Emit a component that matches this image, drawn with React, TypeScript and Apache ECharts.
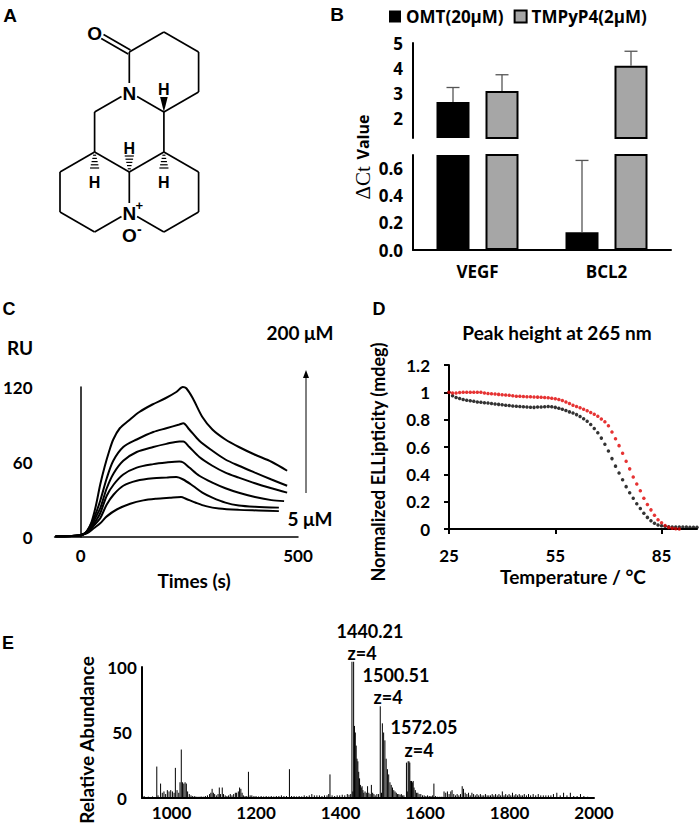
import React, { useEffect, useRef } from 'react';
import * as echarts from 'echarts';

// ---------- Panel B data ----------
const categories = ['VEGF', 'BCL2'];
const omtMean = [2.64, 0.13];
const omtErr = [0.58, 0.53];
const tmpMean = [3.08, 4.09];
const tmpErr = [0.65, 0.58];
const upperTicks = [1.2, 2, 3, 4, 5];
const upperLabels = [2, 3, 4, 5];
const lowerTicks = [0, 0.2, 0.4, 0.6, 0.7];
const lowerLabels = [0, 0.2, 0.4, 0.6];

// ---------- Panel C data (time s, RU) ----------
const sprBaseline = [[-58, 0.5], [-40, 0.6], [-20, 0.8], [-5, 1.2], [5, 2]];
const spr200 = [[15, 5], [25, 12], [35, 25], [45, 42], [55, 56], [65, 68], [75, 78], [90, 87], [110, 93], [135, 100], [165, 106], [195, 111], [220, 116], [235, 120], [243, 119], [258, 111], [280, 96], [303, 86], [333, 78], [364, 72], [400, 66], [440, 60], [475, 53]];
const sprC2 = [[15, 5], [25, 11], [35, 19], [45, 29], [60, 47], [75, 61], [98, 72], [129, 78], [167, 84], [197, 87], [227, 90], [236, 91], [250, 86], [273, 77], [303, 69], [333, 62], [364, 57], [401, 51.5], [439, 46], [475, 41]];
const sprC3 = [[15, 4.5], [25, 9], [35, 16], [45, 23], [60, 39], [76, 51], [98, 61], [129, 68], [167, 72], [197, 74.5], [227, 76.5], [236, 76.5], [250, 72], [273, 64], [303, 57], [333, 51.5], [364, 47.5], [401, 43], [439, 39], [475, 35.5]];
const sprC4 = [[15, 4], [25, 8], [35, 13], [45, 19], [60, 33], [76, 42], [98, 50], [129, 55.5], [167, 58.3], [197, 59.6], [227, 60.4], [236, 59.6], [250, 55.6], [273, 49], [303, 43.5], [333, 39], [364, 35.4], [401, 32], [439, 29.5], [468, 28.7]];
const sprC5 = [[15, 3.5], [25, 7], [35, 11], [45, 15], [60, 26], [76, 34], [98, 41], [129, 45], [167, 47], [197, 47.5], [220, 48], [236, 46], [258, 41], [280, 35.5], [303, 31.5], [333, 27.5], [364, 25.2], [401, 24.2], [456, 23.5]];
const spr5 = [[15, 3], [30, 7], [45, 11], [60, 16.5], [83, 22], [114, 26.6], [144, 29.3], [174, 30.6], [205, 31.4], [231, 32], [242, 30.6], [265, 27.4], [288, 24.7], [318, 22.8], [364, 21.7], [409, 21.2], [456, 20.7]];
const sprCurves = [spr200, sprC2, sprC3, sprC4, sprC5, spr5];

// ---------- Panel D data (°C, normalized ellipticity) ----------
const meltTemps = [25, 26, 27, 28, 29, 30, 31, 32, 33, 34, 35, 36, 37, 38, 39, 40, 41, 42, 43, 44, 45, 46, 47, 48, 49, 50, 51, 52, 53, 54, 55, 56, 57, 58, 59, 60, 61, 62, 63, 64, 65, 66, 67, 68, 69, 70, 71, 72, 73, 74, 75, 76, 77, 78, 79, 80, 81, 82, 83, 84, 85, 86, 87, 88, 89, 90, 91, 92, 93, 94, 95];
const meltRed = [1.0, 0.995, 0.995, 0.998, 1.0, 1.0, 1.0, 1.0, 1.0, 1.0, 0.995, 0.992, 0.99, 0.988, 0.985, 0.982, 0.98, 0.978, 0.975, 0.972, 0.972, 0.97, 0.968, 0.968, 0.966, 0.965, 0.964, 0.962, 0.96, 0.957, 0.953, 0.947, 0.94, 0.93, 0.918, 0.906, 0.897, 0.887, 0.877, 0.866, 0.853, 0.84, 0.825, 0.805, 0.785, 0.755, 0.71, 0.66, 0.61, 0.555, 0.495, 0.44, 0.38, 0.33, 0.28, 0.225, 0.18, 0.14, 0.1, 0.068, 0.045, 0.025, 0.012, 0.005, 0.002, 0.0];
const meltBlack = [1.0, 0.975, 0.962, 0.955, 0.948, 0.942, 0.938, 0.934, 0.93, 0.927, 0.924, 0.922, 0.919, 0.915, 0.912, 0.909, 0.906, 0.903, 0.9, 0.898, 0.896, 0.894, 0.892, 0.891, 0.89, 0.892, 0.893, 0.895, 0.897, 0.895, 0.89, 0.884, 0.876, 0.867, 0.857, 0.848, 0.837, 0.823, 0.807, 0.788, 0.765, 0.735, 0.705, 0.665, 0.62, 0.57, 0.515, 0.46, 0.41, 0.36, 0.31, 0.265, 0.225, 0.185, 0.15, 0.115, 0.085, 0.06, 0.042, 0.03, 0.024, 0.02, 0.017, 0.015, 0.015, 0.015, 0.014, 0.014, 0.013, 0.013, 0.012];

// ---------- Panel E data (m/z, relative abundance) ----------
const msPeaks = [
  [935, 1.5], [945, 1], [955, 1.2], [965, 24], [968, 2], [974, 11], [978, 4], [982, 5], [986, 3], [990, 6], [994, 5], [998, 6], [1002, 5], [1006, 4], [1009, 23], [1013, 6], [1017, 4], [1020, 12], [1023, 37], [1026, 12], [1029, 11], [1032, 12], [1035, 11], [1038, 5], [1042, 3], [1046, 2], [1050, 1.5], [1055, 1.5], [1060, 1],
  [1065, 1], [1070, 1.2], [1075, 1], [1080, 1.5], [1085, 2], [1090, 3], [1093, 4], [1096, 7], [1099, 4], [1102, 3], [1106, 2], [1110, 3], [1113, 8], [1116, 3], [1120, 8], [1123, 3], [1127, 2], [1131, 1.5], [1135, 2], [1139, 3], [1143, 2], [1147, 3], [1151, 4], [1154, 4], [1158, 5], [1161, 8], [1164, 7], [1167, 4], [1170, 2], [1174, 1.5], [1178, 1.5], [1182, 20], [1186, 2], [1190, 2],
  [1195, 1.5], [1200, 1.5], [1206, 1.2], [1212, 1.5], [1218, 1.2], [1224, 1.5], [1230, 1.2], [1236, 1.5], [1242, 1.2], [1248, 1.5], [1254, 1.5], [1260, 2], [1266, 1.5], [1272, 1.5], [1279, 22], [1284, 1.5], [1290, 1.5], [1296, 1.2], [1302, 1.5], [1308, 1.2], [1314, 2], [1320, 1.5], [1326, 2], [1332, 3], [1338, 2], [1344, 2], [1350, 2], [1356, 1.5], [1362, 2], [1368, 2], [1372, 3], [1375, 18], [1380, 2], [1386, 1.5], [1392, 2], [1398, 2], [1404, 2.5], [1410, 2], [1416, 3], [1420, 2.5],
  [1424, 3], [1427, 104], [1429, 5], [1431, 104], [1433, 55], [1435, 50], [1437, 40], [1439, 30], [1441, 28], [1443, 20], [1445, 15], [1447, 10], [1449, 8], [1451, 9], [1453, 6], [1455, 4], [1458, 5], [1461, 4], [1464, 9], [1467, 4], [1470, 3], [1473, 10], [1476, 4], [1479, 3], [1482, 2], [1486, 3],
  [1490, 3], [1494, 70], [1497, 4], [1499, 57], [1502, 50], [1505, 44], [1508, 30], [1511, 22], [1514, 18], [1517, 12], [1520, 10], [1523, 8], [1526, 6], [1529, 5], [1532, 4], [1535, 3], [1538, 3], [1541, 2.5], [1544, 3], [1547, 2], [1550, 2],
  [1556, 27], [1558, 5], [1560, 28], [1562, 28], [1564, 27], [1566, 13], [1568, 13], [1570, 12], [1572, 13], [1574, 8], [1577, 6], [1580, 4], [1583, 4], [1586, 3], [1590, 3], [1594, 2], [1598, 2], [1602, 1.5], [1606, 2], [1610, 1.5], [1614, 1.5], [1618, 2], [1621, 11], [1625, 1.5], [1630, 1], [1635, 1], [1640, 1],
  [1645, 5], [1649, 4], [1653, 5], [1657, 3], [1661, 5], [1664, 6], [1668, 3], [1672, 2], [1676, 3], [1680, 2], [1684, 3], [1688, 9], [1691, 7], [1695, 4], [1699, 3], [1703, 4], [1707, 2], [1711, 4], [1715, 3], [1719, 2], [1723, 3], [1727, 2], [1731, 3], [1735, 2], [1739, 2], [1743, 3], [1747, 2], [1751, 2], [1755, 2], [1759, 3], [1763, 2], [1767, 3], [1771, 2], [1775, 3], [1779, 2], [1783, 5], [1787, 2], [1791, 3], [1795, 2], [1799, 3], [1803, 2], [1807, 4], [1811, 2], [1815, 3], [1819, 2], [1823, 3], [1827, 2], [1831, 2], [1835, 3], [1840, 2], [1845, 3], [1850, 2], [1856, 3], [1862, 2], [1868, 3], [1874, 2], [1880, 2], [1886, 2], [1892, 2], [1898, 2], [1904, 3], [1912, 4], [1920, 2], [1928, 4], [1936, 2], [1944, 4], [1952, 1.5], [1960, 1.5], [1968, 3], [1976, 1.5], [1985, 1],
];
const msXLabels = [1000, 1200, 1400, 1600, 1800, 2000];
const msYLabels = [0, 50, 100];
const peakNotes = [
  { mz: '1440.21', z: 'z=4' },
  { mz: '1500.51', z: 'z=4' },
  { mz: '1572.05', z: 'z=4' },
];

// ---------- Fonts ----------
const FB = '"Open Sans", sans-serif';
const FC = 'Lato, "Open Sans", sans-serif';
const FS = '"Liberation Sans", Arial, sans-serif';

// ---------- Structure (panel A) ----------
const SX = [60, 94.6, 129.3, 163.9, 198.6];
const atoms: Record<string, [number, number]> = {
  C1: [SX[2], 52], C2: [SX[3], 32], C3: [SX[4], 52], C4: [SX[4], 92], C5: [SX[3], 112], N1: [SX[2], 92],
  O1: [SX[1], 32], C6: [SX[1], 112], C7: [SX[1], 152], C8: [SX[2], 172], C9: [SX[3], 152],
  C10: [SX[0], 172], C11: [SX[0], 212], C12: [SX[1], 232], N2: [SX[2], 212],
  C13: [SX[4], 172], C14: [SX[4], 212], C15: [SX[3], 232],
};
const labelled: Record<string, number> = { N1: 9, N2: 9, O1: 9 };
const bonds = [
  ['C1', 'C2'], ['C2', 'C3'], ['C3', 'C4'], ['C4', 'C5'], ['C5', 'N1'], ['N1', 'C1'],
  ['N1', 'C6'], ['C6', 'C7'], ['C7', 'C8'], ['C8', 'C9'], ['C9', 'C5'],
  ['C7', 'C10'], ['C10', 'C11'], ['C11', 'C12'], ['C12', 'N2'], ['N2', 'C8'],
  ['C9', 'C13'], ['C13', 'C14'], ['C14', 'C15'], ['C15', 'N2'],
];

function seg(a: [number, number], b: [number, number], sa: number, sb: number, off = 0) {
  const dx = b[0] - a[0], dy = b[1] - a[1];
  const len = Math.hypot(dx, dy);
  const ux = dx / len, uy = dy / len;
  const px = -uy * off, py = ux * off;
  return {
    type: 'line', silent: true,
    shape: { x1: a[0] + ux * sa + px, y1: a[1] + uy * sa + py, x2: b[0] - ux * sb + px, y2: b[1] - uy * sb + py },
    style: { stroke: '#000', lineWidth: 1.7 },
  };
}

function structureGraphics() {
  const els: any[] = [];
  bonds.forEach(([p, q]) => {
    els.push(seg(atoms[p], atoms[q], labelled[p] || 0, labelled[q] || 0));
  });
  els.push(seg(atoms.C1, atoms.O1, 0, 9, 2.3));
  els.push(seg(atoms.C1, atoms.O1, 0, 9, -2.3));
  const c5 = atoms.C5;
  els.push({ type: 'polygon', silent: true, shape: { points: [[c5[0], c5[1]], [c5[0] - 3.8, c5[1] - 15], [c5[0] + 3.8, c5[1] - 15]] }, style: { fill: '#000' } });
  const hash = (c: [number, number], dir: number) => {
    for (let i = 1; i <= 5; i++) {
      const y = c[1] + dir * (i * 3.2);
      const w = 0.8 + i * 0.75;
      els.push({ type: 'line', silent: true, shape: { x1: c[0] - w, y1: y, x2: c[0] + w, y2: y }, style: { stroke: '#000', lineWidth: 1.2 } });
    }
  };
  hash(atoms.C8, -1);
  hash(atoms.C7, 1);
  hash(atoms.C9, 1);
  const txt = (t: string, x: number, y: number, size: number) => ({
    type: 'text', silent: true, x, y,
    style: { text: t, fill: '#000', font: `bold ${size}px ${FS}`, align: 'center', verticalAlign: 'middle' },
  });
  els.push(txt('O', atoms.O1[0], atoms.O1[1] + 1, 19));
  els.push(txt('N', atoms.N1[0], atoms.N1[1] + 1, 19));
  els.push(txt('N', atoms.N2[0], atoms.N2[1] + 1, 19));
  els.push(txt('+', atoms.N2[0] + 10, atoms.N2[1] - 7, 13));
  els.push(txt('O', atoms.N2[0], atoms.N2[1] + 23, 19));
  els.push(txt('-', atoms.N2[0] + 10, atoms.N2[1] + 17, 14));
  els.push(txt('H', atoms.C5[0], atoms.C5[1] - 23, 16));
  els.push(txt('H', atoms.C8[0], atoms.C8[1] - 24, 16));
  els.push(txt('H', atoms.C7[0], atoms.C7[1] + 30, 16));
  els.push(txt('H', atoms.C9[0], atoms.C9[1] + 30, 16));
  return els;
}

function text(t: string, x: number, y: number, font: string, extra: any = {}) {
  return { type: 'text', silent: true, x, y, ...extra, style: { text: t, fill: '#000', font, align: 'center', verticalAlign: 'middle', ...(extra.style || {}) } };
}

function buildOption() {
  const errData = [
    ...omtMean.map((m, i) => [i, m, omtErr[i], 0]),
    ...tmpMean.map((m, i) => [i, m, tmpErr[i], 1]),
  ];
  const barW = 33, gapPx = 16;
  const half = (barW + gapPx) / 2;
  const errRender = (params: any, api: any) => {
    const idx = api.value(0), m = api.value(1), e = api.value(2), g = api.value(3);
    const base = api.coord([idx, m]);
    const top = api.coord([idx, m + e]);
    const x = base[0] + (g === 0 ? -half : half);
    return {
      type: 'group', children: [
        { type: 'line', shape: { x1: x, y1: base[1], x2: x, y2: top[1] }, style: { stroke: '#555', lineWidth: 1.3 } },
        { type: 'line', shape: { x1: x - 6.5, y1: top[1], x2: x + 6.5, y2: top[1] }, style: { stroke: '#555', lineWidth: 1.3 } },
      ],
    };
  };
  const stickRender = (params: any, api: any) => {
    const p0 = api.coord([api.value(0), 0]);
    const p1 = api.coord([api.value(0), api.value(1)]);
    return { type: 'line', shape: { x1: p0[0], y1: p0[1], x2: p1[0], y2: p1[1] }, style: { stroke: '#000', lineWidth: 1 } };
  };

  const axisLine = (w = 2) => ({ show: true, lineStyle: { color: '#000', width: w } });
  const bLabel = { color: '#000', fontFamily: FB, fontWeight: 'bold', fontSize: 17 };
  const cLabel = { color: '#000', fontFamily: FC, fontWeight: 'bold', fontSize: 17 };
  const T = `bold 19px ${FC}`;

  const graphic: any[] = [
    text('A', 10, 15, `bold 19px ${FS}`),
    text('B', 337, 14, `bold 19px ${FS}`),
    text('C', 9, 309, `bold 18px ${FS}`),
    text('D', 379, 309, `bold 18px ${FS}`),
    text('E', 8, 643, `bold 18px ${FS}`),
    ...structureGraphics(),
    {
      type: 'text', silent: true, x: 363, y: 157, rotation: Math.PI / 2,
      style: {
        text: '{d|ΔCt}  {v|Value}', fill: '#000', align: 'center', verticalAlign: 'middle',
        rich: {
          d: { fontFamily: '"Liberation Serif", "DejaVu Serif", serif', fontSize: 21, fill: '#000' },
          v: { fontFamily: FB, fontWeight: 'bold', fontSize: 16, fill: '#000' },
        },
      },
    },
    text('RU', 20, 347, T),
    text('200 μM', 300, 332, T),
    text('5 μM', 310, 518, T),
    { type: 'line', silent: true, shape: { x1: 306, y1: 493, x2: 306, y2: 376 }, style: { stroke: '#000', lineWidth: 1 } },
    { type: 'polygon', silent: true, shape: { points: [[306, 370], [303, 378], [309, 378]] }, style: { fill: '#000' } },
    text('Times (s)', 194, 580, T),
    text('Peak height at 265 nm', 557, 332, T),
    text('Temperature / °C', 573, 576, T),
    text('Normalized ELLipticity (mdeg)', 378, 462, `bold 18px ${FC}`, { rotation: Math.PI / 2 }),
    text('Relative Abundance', 86, 740, T, { rotation: Math.PI / 2 }),
    text(peakNotes[0].mz, 370, 631, `bold 18px ${FC}`),
    text(peakNotes[0].z, 362, 653, `bold 18px ${FC}`),
    text(peakNotes[1].mz, 396, 675, `bold 18px ${FC}`),
    text(peakNotes[1].z, 388, 697, `bold 18px ${FC}`),
    text(peakNotes[2].mz, 424, 727, `bold 18px ${FC}`),
    text(peakNotes[2].z, 419, 750, `bold 18px ${FC}`),
  ];

  return {
    animation: false,
    backgroundColor: '#fff',
    legend: {
      left: 384, top: 3, itemWidth: 12, itemHeight: 12, itemGap: 10, icon: 'rect',
      data: ['OMT(20μM)', 'TMPyP4(2μM)'],
      textStyle: { color: '#000', fontFamily: FB, fontWeight: 'bold', fontSize: 17 },
      selectedMode: false,
    },
    grid: [
      { left: 413, top: 43, width: 258, height: 95 },
      { left: 413, top: 155, width: 258, height: 95 },
      { left: 54, top: 387, width: 244, height: 150 },
      { left: 449, top: 365, width: 248, height: 164 },
      { left: 142, top: 667, width: 452, height: 131 },
    ],
    xAxis: [
      { type: 'category', gridIndex: 0, data: categories, show: false },
      {
        type: 'category', gridIndex: 1, data: categories, axisLine: axisLine(2),
        axisTick: { alignWithLabel: true, length: 6, lineStyle: { color: '#000', width: 1.5 } },
        axisLabel: { ...bLabel, margin: 13 },
      },
      {
        type: 'value', gridIndex: 2, min: -60, max: 500, axisLine: axisLine(1.5), axisTick: { show: false }, splitLine: { show: false },
        axisLabel: { ...cLabel, customValues: [0, 500], margin: 10 },
      },
      {
        type: 'value', gridIndex: 3, min: 25, max: 95, axisLine: axisLine(2), splitLine: { show: false },
        axisTick: { customValues: [25, 55, 85], length: 5, lineStyle: { color: '#000', width: 2 } },
        axisLabel: { ...cLabel, customValues: [25, 55, 85], margin: 18 },
      },
      {
        type: 'value', gridIndex: 4, min: 930, max: 2000, axisLine: axisLine(2), axisTick: { show: false }, splitLine: { show: false },
        axisLabel: { ...cLabel, customValues: msXLabels, margin: 6, formatter: (v: number) => String(v) },
      },
    ],
    yAxis: [
      {
        type: 'value', gridIndex: 0, min: 1.2, max: 5, axisLine: axisLine(2), splitLine: { show: false },
        axisTick: { customValues: upperTicks, length: 6, lineStyle: { color: '#000', width: 2 } },
        axisLabel: { ...bLabel, customValues: upperLabels, margin: 10 },
      },
      {
        type: 'value', gridIndex: 1, min: 0, max: 0.7, axisLine: axisLine(2), splitLine: { show: false },
        axisTick: { customValues: lowerTicks, length: 6, lineStyle: { color: '#000', width: 2 } },
        axisLabel: { ...bLabel, customValues: lowerLabels, margin: 10, formatter: (v: number) => v.toFixed(1) },
      },
      {
        type: 'value', gridIndex: 2, min: 0, max: 120, axisLine: axisLine(1.5), axisTick: { show: false }, splitLine: { show: false },
        axisLabel: { ...cLabel, customValues: [0, 60, 120], margin: 22 },
      },
      {
        type: 'value', gridIndex: 3, min: 0, max: 1.2, interval: 0.2, axisLine: axisLine(2), splitLine: { show: false },
        axisTick: { length: 5, lineStyle: { color: '#000', width: 2 } },
        axisLabel: { ...cLabel, margin: 19 },
      },
      {
        type: 'value', gridIndex: 4, min: 0, max: 100, axisLine: axisLine(2), axisTick: { show: false }, splitLine: { show: false },
        axisLabel: { ...cLabel, customValues: msYLabels, margin: 20, align: 'center' },
      },
    ],
    series: [
      { name: 'OMT(20μM)', type: 'bar', xAxisIndex: 0, yAxisIndex: 0, data: omtMean, barWidth: barW, barGap: `${(gapPx / barW) * 100}%`, itemStyle: { color: '#000' }, clip: true },
      { name: 'TMPyP4(2μM)', type: 'bar', xAxisIndex: 0, yAxisIndex: 0, data: tmpMean, barWidth: barW, itemStyle: { color: '#a6a6a6', borderColor: '#000', borderWidth: 2 }, clip: true },
      { name: 'OMT(20μM)', type: 'bar', xAxisIndex: 1, yAxisIndex: 1, data: omtMean, barWidth: barW, barGap: `${(gapPx / barW) * 100}%`, itemStyle: { color: '#000' }, clip: true },
      { name: 'TMPyP4(2μM)', type: 'bar', xAxisIndex: 1, yAxisIndex: 1, data: tmpMean, barWidth: barW, itemStyle: { color: '#a6a6a6', borderColor: '#000', borderWidth: 2 }, clip: true },
      { name: 'errUpper', type: 'custom', xAxisIndex: 0, yAxisIndex: 0, data: errData, renderItem: errRender, encode: { x: 0, y: 1 }, clip: true, z: 3 },
      { name: 'errLower', type: 'custom', xAxisIndex: 1, yAxisIndex: 1, data: errData, renderItem: errRender, encode: { x: 0, y: 1 }, clip: true, z: 3 },
      ...sprCurves.map((c, i) => ({
        name: `spr${i}`, type: 'line', xAxisIndex: 2, yAxisIndex: 2, data: [...sprBaseline, ...c],
        showSymbol: false, smooth: 0.3, lineStyle: { color: '#000', width: 2 }, itemStyle: { color: '#000' },
      })),
      {
        name: 'melt2', type: 'scatter', xAxisIndex: 3, yAxisIndex: 3, symbolSize: 3.5,
        data: meltBlack.map((v, i) => [meltTemps[i], v]), itemStyle: { color: '#000' },
      },
      {
        name: 'melt1', type: 'scatter', xAxisIndex: 3, yAxisIndex: 3, symbolSize: 3.5,
        data: meltRed.map((v, i) => [meltTemps[i], v]), itemStyle: { color: '#e00000' },
      },
      { name: 'ms', type: 'custom', xAxisIndex: 4, yAxisIndex: 4, data: msPeaks, renderItem: stickRender, encode: { x: 0, y: 1 } },
    ],
    graphic,
  };
}

export default function App() {
  const ref = useRef<HTMLDivElement>(null);
  useEffect(() => {
    document.body.style.margin = '0';
    const chart = echarts.init(ref.current!, null, { renderer: 'svg' });
    chart.setOption(buildOption() as any);
    return () => chart.dispose();
  }, []);
  return <div ref={ref} style={{ width: 699, height: 826 }} />;
}
